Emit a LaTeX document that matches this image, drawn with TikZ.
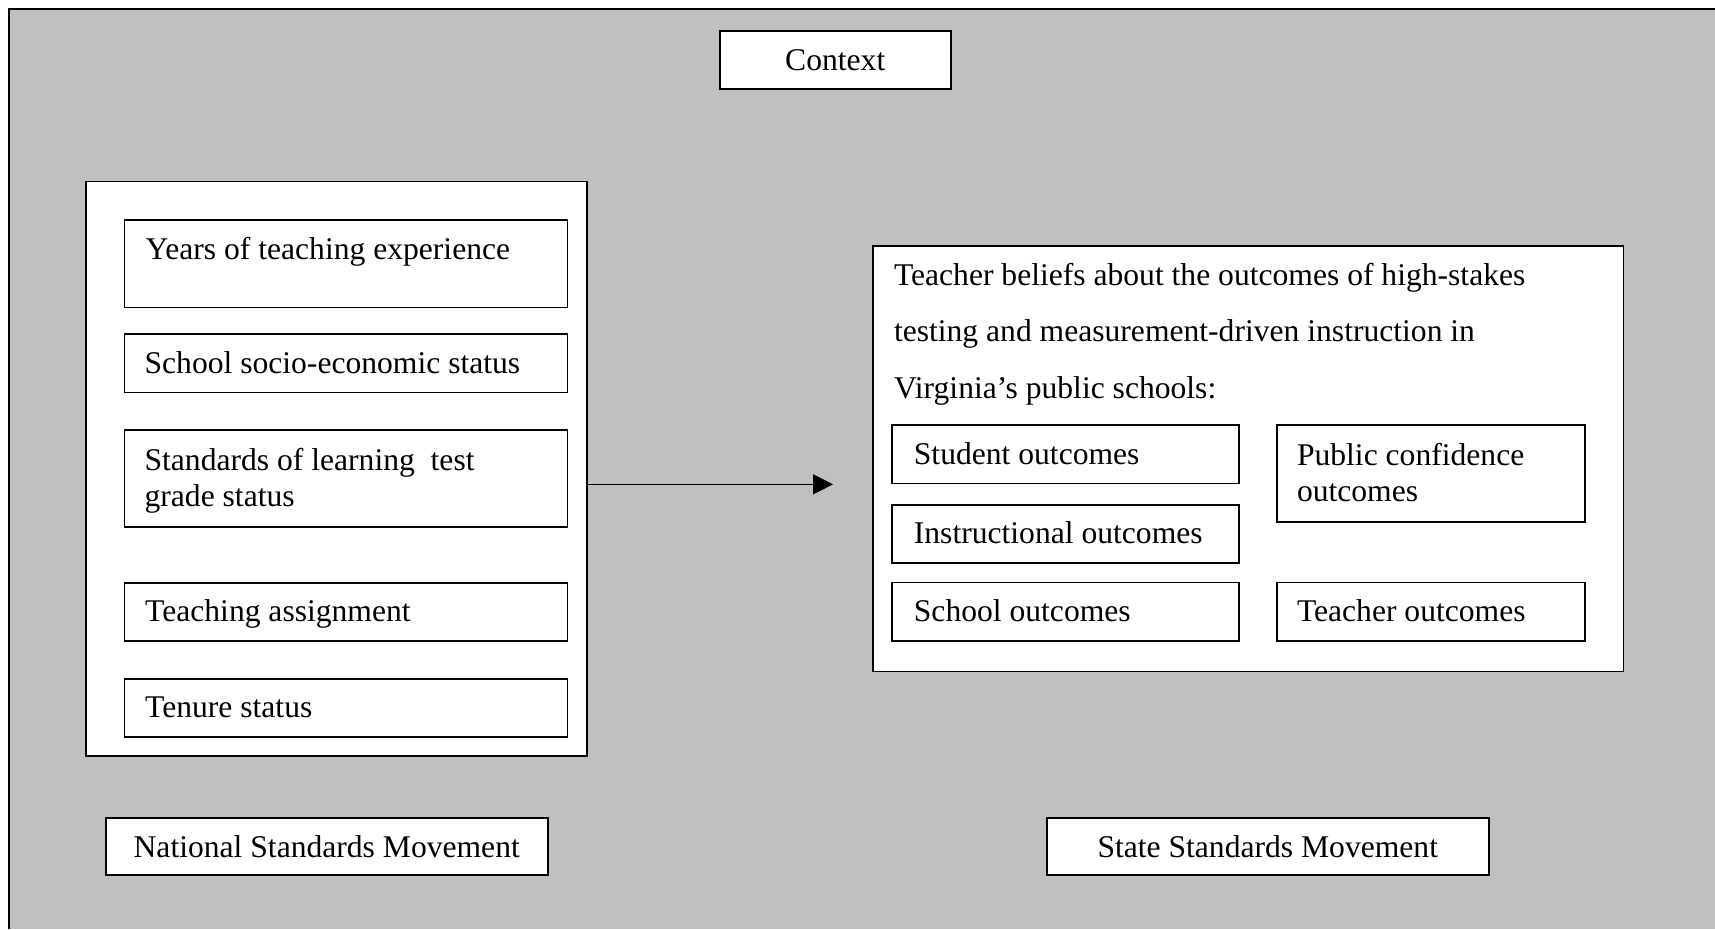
\documentclass[tikz,border=0pt]{standalone}
\usepackage{fontspec}
\setmainfont{Liberation Serif}
\usetikzlibrary{arrows.meta,calc}
\definecolor{bggray}{RGB}{192,192,192}
\begin{document}
\begin{tikzpicture}[x=1pt,y=-1pt,
  box/.style={draw, line width=1.5pt, fill=white, inner sep=0pt, anchor=north west},
  txt/.style={inner sep=0pt, anchor=base west, font=\fontsize{31.6}{36.7}\selectfont},
  ctxt/.style={txt, anchor=base}]
\useasboundingbox (0,0) rectangle (1715,929);
\fill[white] (0,0) rectangle (1715,929);
\fill[bggray] (8.7,8.7) rectangle (1715,929);
\draw[line width=2pt] (8.7,929) -- (8.7,8.7) -- (1715,8.7);

% context
\node[box, minimum width=231pt, minimum height=58pt] (context) at (719,30) {};
\node[ctxt] (context-t) at ($(context.center)+(0,10.8)$) {Context};

% left group
\node[box, minimum width=501pt, minimum height=574.5pt] (left) at (85,180.5) {};
\node[box, minimum width=443pt, minimum height=87.7pt] (years) at (123.7,219) {};
\node[txt] (years-t) at (145.5,259.3) {Years of teaching experience};
\node[box, minimum width=443pt, minimum height=58.4pt] (ses) at (123.7,333.3) {};
\node[txt] (ses-t) at (144.4,373.3) {School socio-economic status};
\node[box, minimum width=443pt, minimum height=96.7pt] (sol) at (123.7,429.3) {};
\node[txt] (sol-t1) at (144.4,470) {Standards of learning\ \ test};
\node[txt] (sol-t2) at (144.4,506.7) {grade status};
\node[box, minimum width=443pt, minimum height=58pt] (assign) at (123.7,582) {};
\node[txt] (assign-t) at (145,621.8) {Teaching assignment};
\node[box, minimum width=443pt, minimum height=58pt] (tenure) at (123.7,678) {};
\node[txt] (tenure-t) at (145,717.8) {Tenure status};

% right group
\node[box, minimum width=750.3pt, minimum height=425.7pt] (right) at (872.4,245) {};
\node[txt] (right-t1) at (893.8,285) {Teacher beliefs about the outcomes of high-stakes};
\node[txt] (right-t2) at (893.8,341.7) {testing and measurement-driven instruction in};
\node[txt] (right-t3) at (893.8,398.3) {Virginia’s public schools:};
\node[box, minimum width=346.7pt, minimum height=58.4pt] (student) at (891.3,424.3) {};
\node[txt] (student-t) at (913.7,464.5) {Student outcomes};
\node[box, minimum width=346.7pt, minimum height=58pt] (instr) at (891.3,504) {};
\node[txt] (instr-t) at (913.7,543.8) {Instructional outcomes};
\node[box, minimum width=346.7pt, minimum height=58.3pt] (school) at (891.3,581.7) {};
\node[txt] (school-t) at (913.7,621.7) {School outcomes};
\node[box, minimum width=308pt, minimum height=96.7pt] (public) at (1276,424.3) {};
\node[txt] (public-t1) at (1296.8,465) {Public confidence};
\node[txt] (public-t2) at (1296.8,501.7) {outcomes};
\node[box, minimum width=308pt, minimum height=58.3pt] (teacher) at (1276,581.7) {};
\node[txt] (teacher-t) at (1296.8,621.7) {Teacher outcomes};

% arrow
\coordinate (arrowend) at (833,484.3);
\draw[line width=1.5pt, -{Triangle[length=20pt,width=20pt]}] (left.east |- arrowend) -- (arrowend);

% bottom
\node[box, minimum width=442pt, minimum height=57pt] (national) at (105,817) {};
\node[ctxt] (national-t) at ($(national.center)+(0,10.8)$) {National Standards Movement};
\node[box, minimum width=442pt, minimum height=57pt] (state) at (1046,817) {};
\node[ctxt] (state-t) at ($(state.center)+(0,10.8)$) {State Standards Movement};
\end{tikzpicture}
\end{document}
